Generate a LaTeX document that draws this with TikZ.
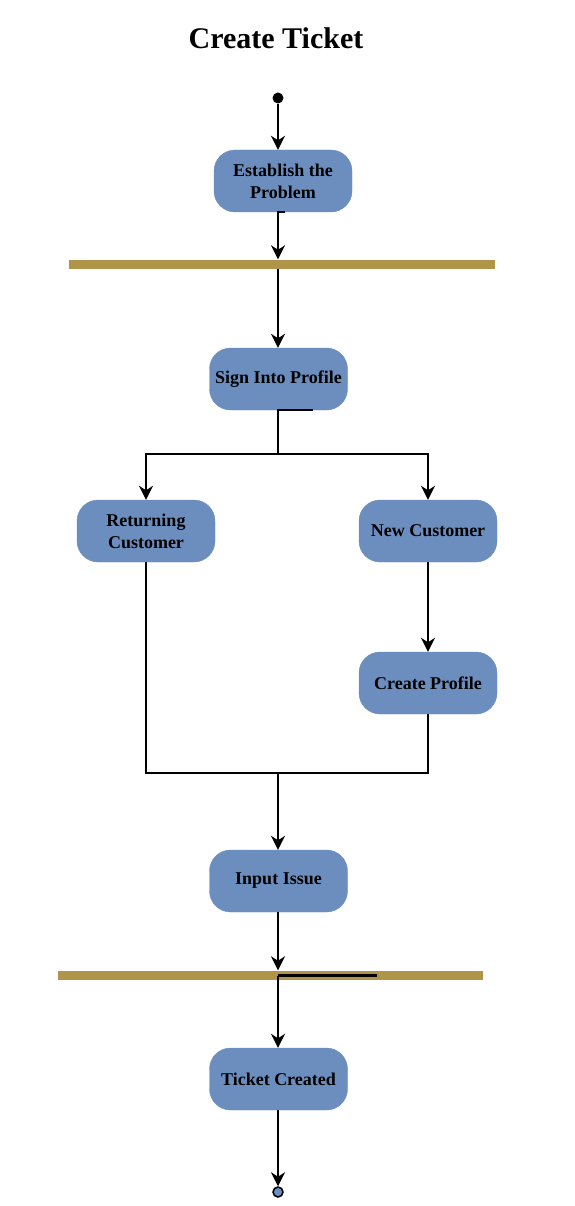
\documentclass[tikz,border=0pt]{standalone}
\usepackage{fontspec}
\setmainfont{Liberation Serif}
\usetikzlibrary{arrows.meta}
\definecolor{boxblue}{HTML}{6C8EBF}
\definecolor{bargold}{HTML}{B09447}
\tikzset{
  act/.style={fill=boxblue, draw=boxblue, rounded corners=21pt, minimum width=138pt, minimum height=62pt,
    align=center, inner sep=0pt, font=\fontsize{18}{22}\selectfont\bfseries},
  bar/.style={fill=bargold, draw=none, minimum height=9pt, inner sep=0pt},
  conn/.style={line width=2.1pt, draw=black},
  arr/.style={conn, -{Stealth[length=14pt, width=14pt, inset=4.5pt]}},
}
\begin{document}
\begin{tikzpicture}[x=1pt, y=-1pt]
\useasboundingbox (0,0) rectangle (574,1206);
\node[font=\fontsize{30}{34}\selectfont\bfseries] (title) at (276,38) {Create Ticket};
\node[circle, fill=black, minimum size=11pt, inner sep=0pt] (start) at (278,98) {};
\node[act] (est) at (283,181) {Establish the\\Problem};
\node[bar, minimum width=426pt] (bar1) at (282,264) {};
\coordinate (b1) at (278,264);
\node[act] (sign) at (278.5,379) {Sign Into Profile};
\coordinate (split) at (278,454);
\node[act] (ret) at (146,531) {Returning\\Customer};
\node[act] (new) at (428,531) {New Customer};
\node[act] (cp) at (428,683) {Create Profile};
\coordinate (merge) at (278,773);
\node[act] (inp) at (278.5,881) {Input Issue};
\node[bar, minimum width=425pt] (bar2) at (270.5,975) {};
\coordinate (b2) at (278,975.5);
\coordinate (b2s) at (377,975.5);
\node[act] (tc) at (278.5,1079) {Ticket Created};
\node[circle, fill=boxblue, draw=black, line width=1.5pt, minimum size=10pt, inner sep=0pt] (end) at (278,1192) {};

\draw[arr] (start) -- (start |- est.north);
\draw[arr] ([xshift=2pt]est.south) -| (b1 |- bar1.north);
\draw[arr] (b1 |- bar1.south) -- (b1 |- sign.north);
\draw[conn] ([xshift=34pt]sign.south) -- (split |- sign.south) -- (split);
\draw[arr] (split) -| (ret.north);
\draw[arr] (split) -| (new.north);
\draw[arr] (new) -- (cp);
\draw[conn] (ret.south) |- (merge);
\draw[conn] (cp.south) |- (merge);
\draw[arr] (merge) -- (merge |- inp.north);
\draw[arr] (b2 |- inp.south) -- (b2 |- bar2.north);
\draw[conn] (b2s) -- (b2);
\draw[arr] (b2) -- (b2 |- tc.north);
\draw[arr] (end |- tc.south) -- (end);
\end{tikzpicture}
\end{document}
